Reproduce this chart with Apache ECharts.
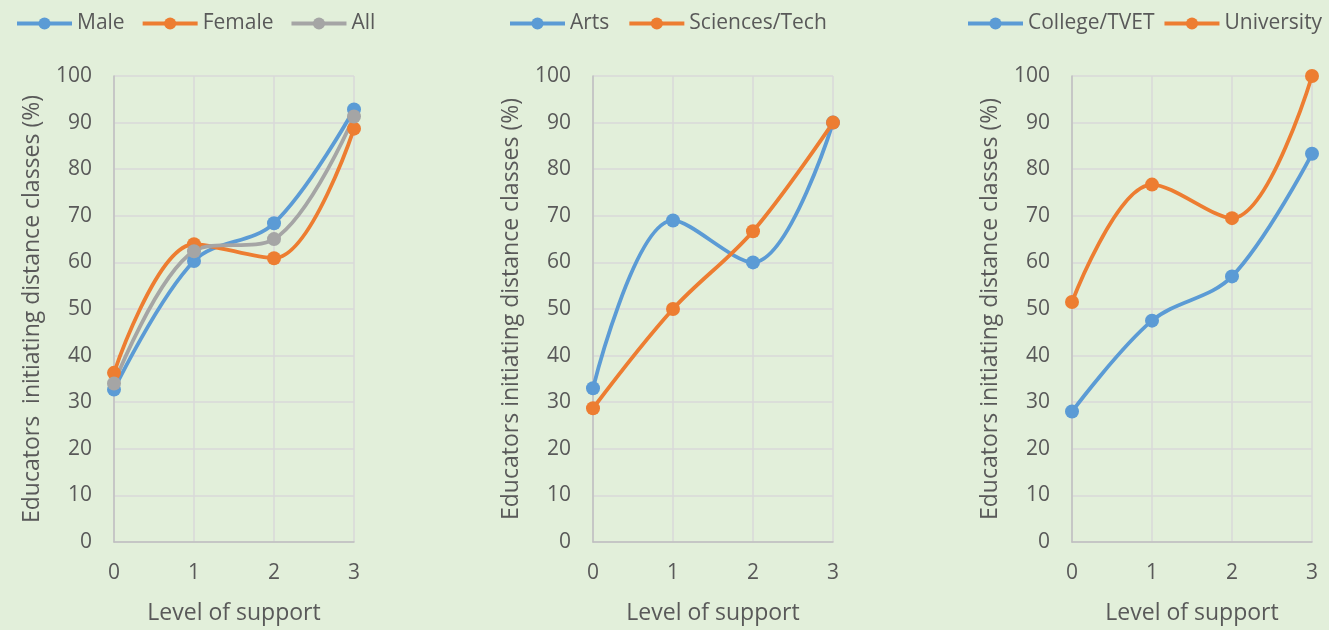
<!DOCTYPE html>
<html><head><meta charset="utf-8">
<script src="https://cdn.jsdelivr.net/npm/echarts@6/dist/echarts.min.js"></script>
<style>html,body{margin:0;padding:0;background:#E2EFDA;}#c{width:1329px;height:630px;}</style>
</head><body><div id="c"></div>
<script>
const xLevels = [0, 1, 2, 3];
const male = [32.7, 60.3, 68.4, 92.8];
const female = [36.3, 63.9, 60.9, 88.7];
const allEd = [34.0, 62.4, 65.0, 91.3];
const arts = [33.0, 69.0, 60.0, 90.0];
const sciences = [28.7, 50.0, 66.7, 90.0];
const college = [28.0, 47.5, 57.0, 83.3];
const university = [51.5, 76.7, 69.5, 100.0];

const BLUE = '#5B9BD5', ORANGE = '#ED7D31', GRAY = '#A5A5A5';
const TXT = '#595959';
const FONT = '"Open Sans", "Liberation Sans", sans-serif';
const lefts = [114, 593, 1072];
const yNames = ['Educators  initiating distance classes (%)', 'Educators initiating distance classes (%)', 'Educators initiating distance classes (%)'];

const panels = [
  [['Male', male, BLUE], ['Female', female, ORANGE], ['All', allEd, GRAY]],
  [['Arts', arts, BLUE], ['Sciences/Tech', sciences, ORANGE]],
  [['College/TVET', college, BLUE], ['University', university, ORANGE]]
];
const legendLefts = [15, 508, 966];
const legendGaps = [16, 18, 8];

const grid = [], xAxis = [], yAxis = [], series = [], legend = [];
panels.forEach((p, i) => {
  grid.push({left: lefts[i], top: 76, width: 240, height: 471});
  xAxis.push({
    type: 'value', gridIndex: i, min: 0, max: 3, interval: 1,
    name: 'Level of support', nameLocation: 'middle', nameGap: 60,
    nameTextStyle: {color: TXT, fontSize: 23, fontFamily: FONT},
    axisLine: {show: true, lineStyle: {color: '#BFBFBF', width: 1.5}},
    axisTick: {show: false},
    axisLabel: {color: TXT, fontSize: 21, fontFamily: FONT, margin: 21},
    splitLine: {show: true, lineStyle: {color: '#D9D9D9', width: 1.5}}
  });
  yAxis.push({
    type: 'value', gridIndex: i, min: 0, max: 100, interval: 10,
    name: yNames[i], nameLocation: 'middle', nameGap: 70,
    nameTextStyle: {color: TXT, fontSize: 23, fontFamily: FONT},
    axisLine: {show: true, lineStyle: {color: '#BFBFBF', width: 1.5}},
    axisTick: {show: false},
    axisLabel: {color: TXT, fontSize: 21, fontFamily: FONT, margin: 22},
    splitLine: {show: true, lineStyle: {color: '#D9D9D9', width: 1.5}}
  });
  const names = [];
  p.forEach(([name, vals, color]) => {
    names.push(name);
    series.push({
      name, type: 'line', xAxisIndex: i, yAxisIndex: i,
      data: xLevels.map((x, k) => [x, vals[k]]),
      smooth: 0.35, symbol: 'circle', symbolSize: 14,
      lineStyle: {color, width: 3.8}, itemStyle: {color},
      z: 3
    });
  });
  legend.push({
    data: names, left: legendLefts[i], top: 13, width: 420, padding: 0,
    itemWidth: 55, itemHeight: 15, itemGap: legendGaps[i],
    lineStyle: {width: 4},
    textStyle: {color: TXT, fontSize: 21, fontFamily: FONT}
  });
});

const chart = echarts.init(document.getElementById('c'), null, {renderer: 'canvas'});
chart.setOption({backgroundColor: '#E2EFDA', animation: false, grid, xAxis, yAxis, series, legend});
</script></body></html>
